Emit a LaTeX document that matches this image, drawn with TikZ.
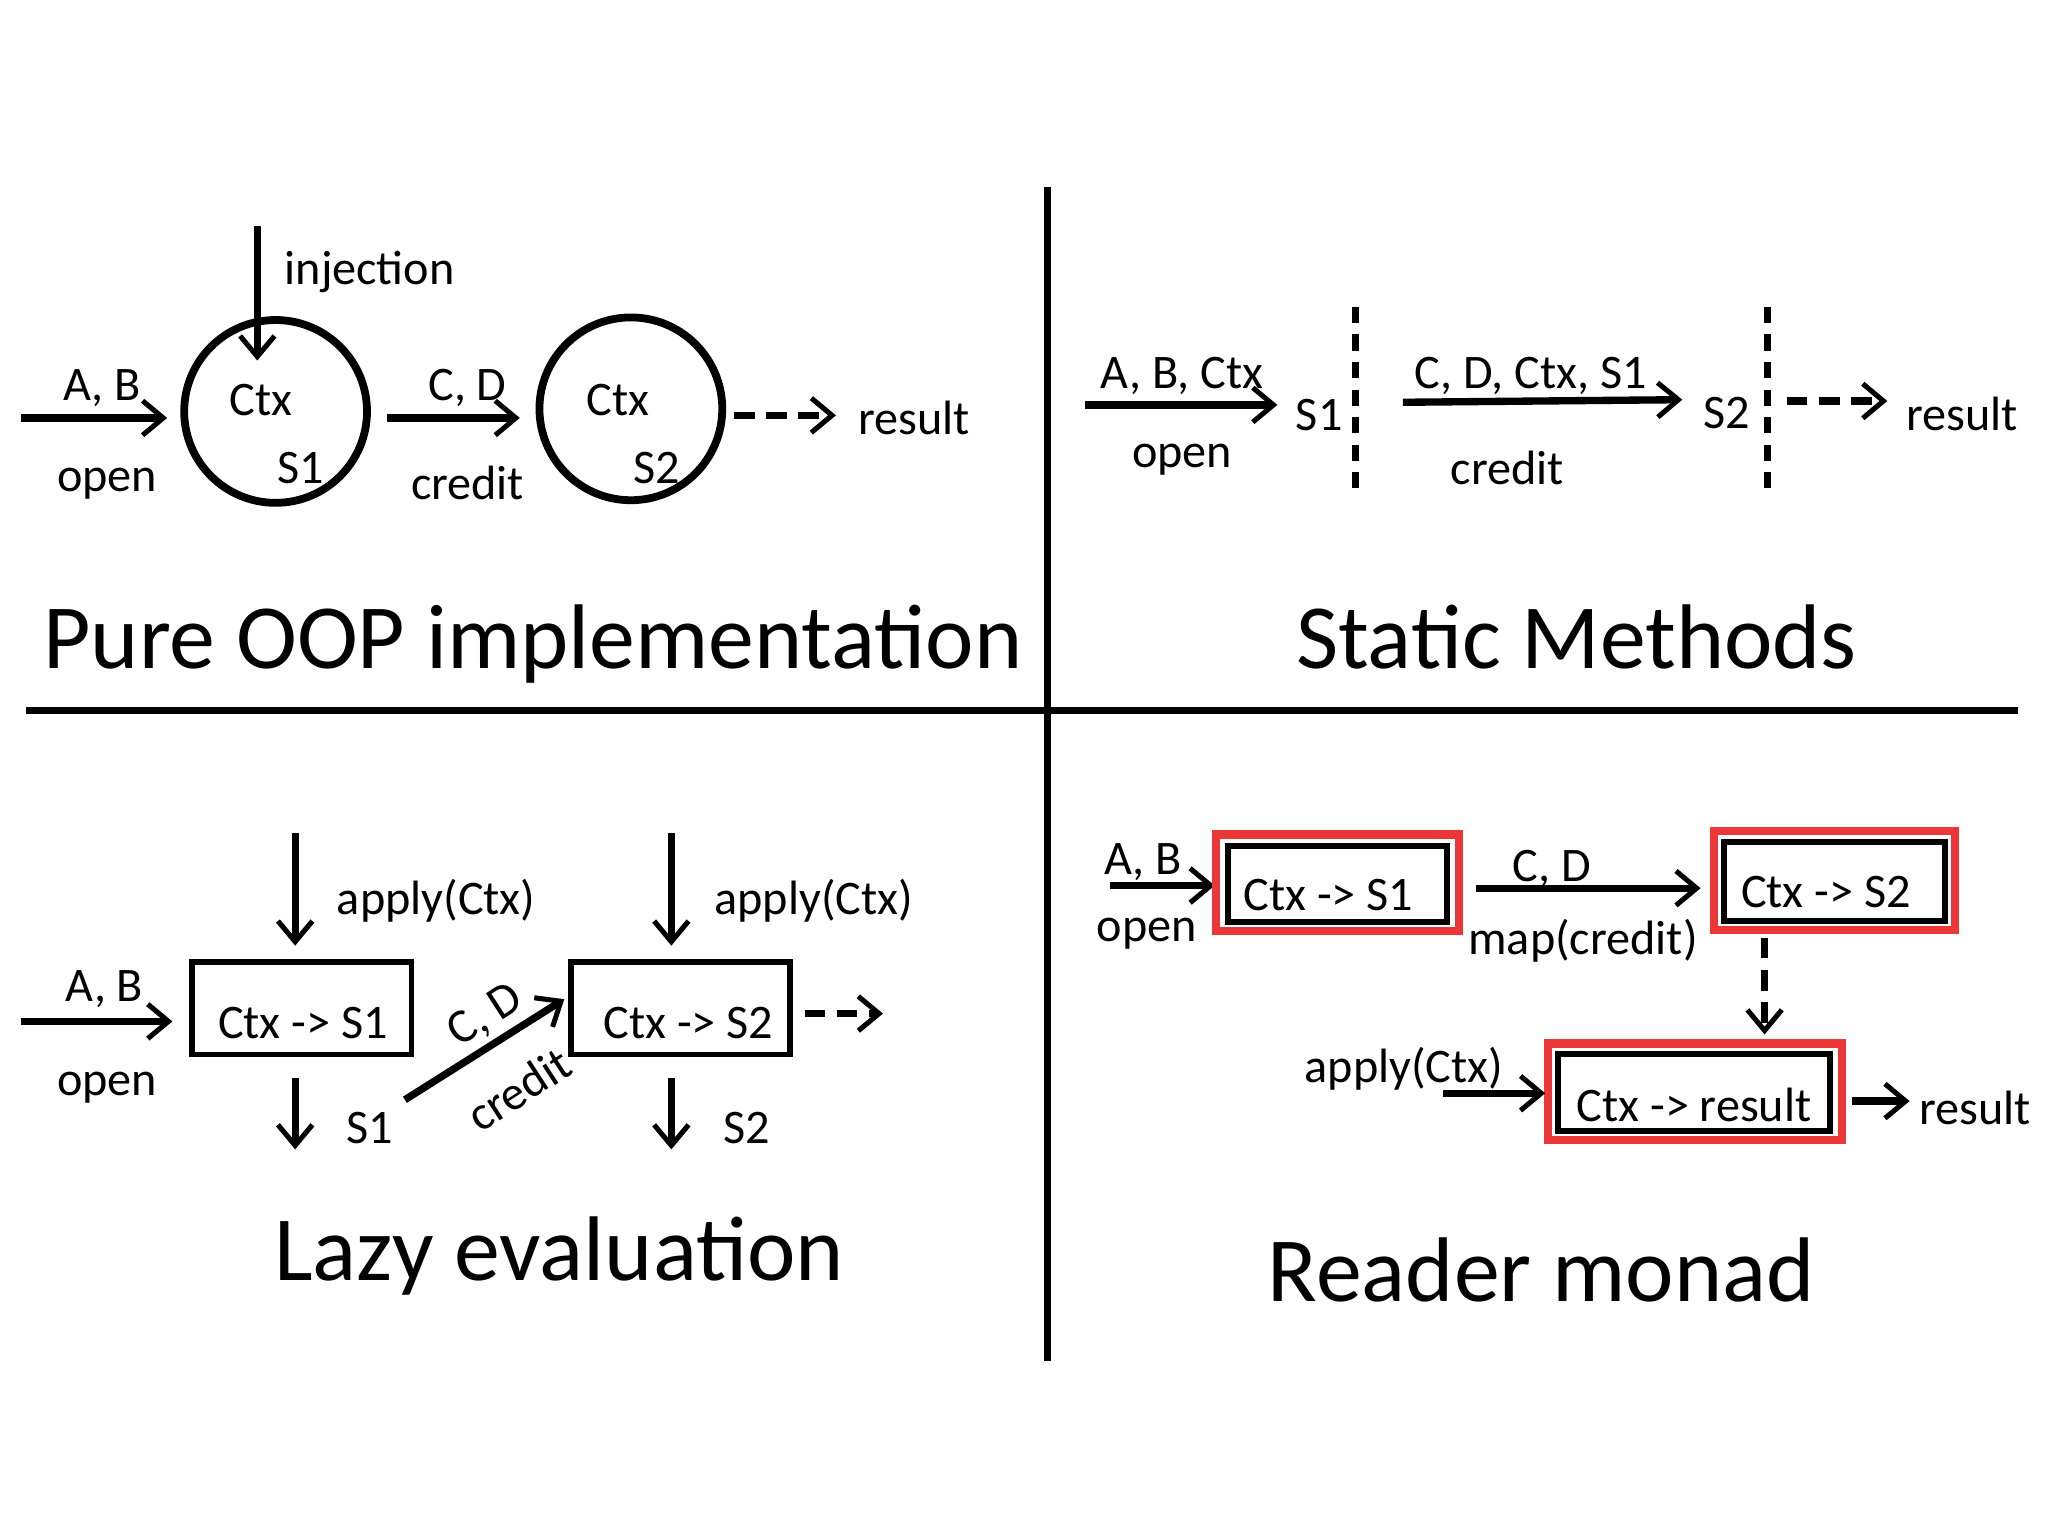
\documentclass[tikz,border=0pt]{standalone}
\usepackage{fontspec}
\setmainfont{Carlito}
\usetikzlibrary{arrows.meta}
\definecolor{rd}{RGB}{235,55,55}
\begin{document}
\begin{tikzpicture}[x=0.02cm,y=-0.02cm,
  ln/.style={line width=3.2pt},
  arr/.style={ln,-{Straight Barb[length=9pt,width=15pt,line width=2.2pt]}},
  darr/.style={arr,dash pattern=on 9pt off 5pt},
  lbl/.style={font=\fontsize{21pt}{24pt}\selectfont,inner sep=0pt},
  ttl/.style={font=\fontsize{40pt}{46pt}\selectfont,inner sep=0pt},
  bx/.style={draw,line width=2.4pt,minimum width=3.36cm,minimum height=1.42cm},
  rbx/.style={draw=rd,line width=3.6pt},
  ibx/.style={line width=2.6pt},
  sep/.style={line width=3pt}]
\useasboundingbox (0,0) rectangle (1568,1176);
\fill[white] (0,0) rectangle (1568,1176);
% dividers
\coordinate (v1) at (802,143); \coordinate (v2) at (802,1042);
\coordinate (h1) at (20,544); \coordinate (h2) at (1545,544);
\draw[sep] (v1)--(v2); \draw[sep] (h1)--(h2);
% ===== top-left
\coordinate (a0) at (16,320); \coordinate (a1) at (128,320);
\draw[arr] (a0)--(a1);
\node[lbl] at (78,297) {A, B};
\node[lbl] at (82,370) {open};
\node[draw,circle,line width=3.4pt,minimum size=2.8cm] (c1) at (211,315) {};
\node[lbl] at (200,306) {Ctx};
\node[lbl] at (230,358) {S1};
\coordinate (i0) at (197,173); \coordinate (i1) at (197,276);
\draw[arr] (i0)--(i1);
\node[lbl] at (283,208) {injection};
\coordinate (b0) at (296,320); \coordinate (b1) at (398,320);
\draw[arr] (b0)--(b1);
\node[lbl] at (358,297) {C, D};
\node[lbl] at (358,370) {credit};
\node[draw,circle,line width=3.4pt,minimum size=2.8cm] (c2) at (483,313) {};
\node[lbl] at (473,306) {Ctx};
\node[lbl] at (503,358) {S2};
\coordinate (d0) at (562,318); \coordinate (d1) at (640,318);
\draw[darr] (d0)--(d1);
\node[lbl] at (700,320) {result};
\node[ttl] at (408,493) {Pure OOP implementation};
% ===== top-right
\coordinate (e0) at (831,310); \coordinate (e1) at (978,310);
\draw[arr] (e0)--(e1);
\node[lbl] at (905,288) {A, B, Ctx};
\node[lbl] at (905,352) {open};
\node[lbl] at (1010,318) {S1};
\coordinate (s1a) at (1038,235); \coordinate (s1b) at (1038,380);
\draw[ln,dash pattern=on 7pt off 5pt] (s1a)--(s1b);
\coordinate (f0) at (1074,308); \coordinate (f1) at (1288,306);
\draw[arr] (f0)--(f1);
\node[lbl] at (1172,288) {C, D, Ctx, S1};
\node[lbl] at (1154,358) {credit};
\node[lbl] at (1322,316) {S2};
\coordinate (s2a) at (1353,235); \coordinate (s2b) at (1353,380);
\draw[ln,dash pattern=on 7pt off 5pt] (s2a)--(s2b);
\coordinate (g0) at (1368,307); \coordinate (g1) at (1445,307);
\draw[darr] (g0)--(g1);
\node[lbl] at (1502,317) {result};
\node[ttl] at (1207,488) {Static Methods};
% ===== bottom-left
\coordinate (h0) at (16,782); \coordinate (hh1) at (132,782);
\draw[arr] (h0)--(hh1);
\node[lbl] at (80,757) {A, B};
\node[lbl] at (82,833) {open};
\node[bx] (l1) at (231,772) {};
\node[lbl] at (232,783) {Ctx -> S1};
\coordinate (p0) at (226,638); \coordinate (p1) at (226,724);
\draw[arr] (p0)--(p1);
\node[lbl] at (334,690) {apply(Ctx)};
\coordinate (q0) at (226,825); \coordinate (q1) at (226,880);
\draw[arr] (q0)--(q1);
\node[lbl] at (283,864) {S1};
\coordinate (r0) at (310,842); \coordinate (r1) at (432,765);
\draw[arr] (r0)--(r1);
\node[lbl,rotate=33] at (372,778) {C, D};
\node[lbl,rotate=33] at (397,834) {credit};
\node[bx] (l2) at (521,772) {};
\node[lbl] at (527,783) {Ctx -> S2};
\coordinate (p2) at (514,638); \coordinate (p3) at (514,724);
\draw[arr] (p2)--(p3);
\node[lbl] at (623,690) {apply(Ctx)};
\coordinate (q2) at (514,825); \coordinate (q3) at (514,880);
\draw[arr] (q2)--(q3);
\node[lbl] at (572,864) {S2};
\coordinate (t0) at (616,776); \coordinate (t1) at (676,776);
\draw[darr] (t0)--(t1);
\node[ttl] at (428,962) {Lazy evaluation};
% ===== bottom-right
\coordinate (u0) at (850,678); \coordinate (u1) at (930,678);
\draw[arr] (u0)--(u1);
\node[lbl] at (875,660) {A, B};
\node[lbl] at (878,715) {open};
\draw[rbx] (931,639) rectangle (1117,713);
\draw[ibx] (940,648) rectangle (1108,706);
\node[lbl] (m1) at (1017,685) {Ctx -> S1};
\coordinate (w0) at (1130,680); \coordinate (w1) at (1302,680);
\draw[arr] (w0)--(w1);
\node[lbl] at (1188,665) {C, D};
\node[lbl] at (1212,720) {map(credit)};
\draw[rbx] (1312,636) rectangle (1497,712);
\draw[ibx] (1320,645) rectangle (1489,705);
\node[lbl] (m2) at (1398,683) {Ctx -> S2};
\coordinate (x0) at (1351,718); \coordinate (x1) at (1351,792);
\draw[darr] (x0)--(x1);
\draw[rbx] (1185,799) rectangle (1410,873);
\draw[ibx] (1193,807) rectangle (1401,866);
\node[lbl] (m3) at (1297,846) {Ctx -> result};
\node[lbl] at (1075,818) {apply(Ctx)};
\coordinate (y0) at (1105,837); \coordinate (y1) at (1183,837);
\draw[arr] (y0)--(y1);
\coordinate (z0) at (1418,843); \coordinate (z1) at (1462,843);
\draw[arr] (z0)--(z1);
\node[lbl] at (1512,848) {result};
\node[ttl] at (1180,972) {Reader monad};
\end{tikzpicture}
\end{document}
